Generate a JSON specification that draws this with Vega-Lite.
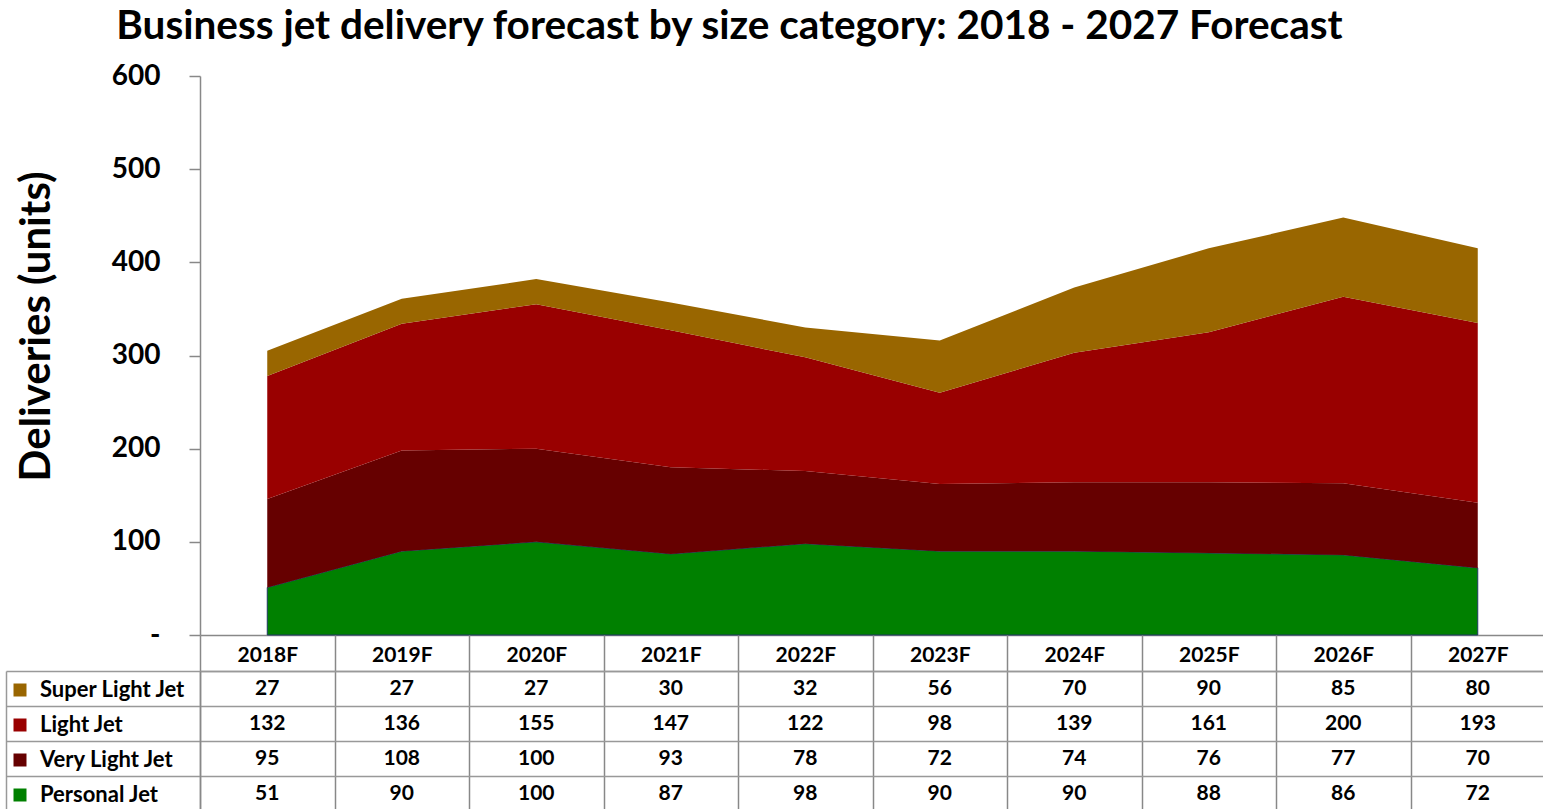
{
  "$schema": "https://vega.github.io/schema/vega-lite/v6.json",
  "padding": {"left": 5, "top": 6, "right": 0, "bottom": 0},
  "autosize": {"type": "pad"},
  "config": {"font": "Lato", "view": {"stroke": null}},
  "title": {"text": "Business jet delivery forecast by size category: 2018 - 2027 Forecast", "fontSize": 40.5, "fontWeight": "bold", "color": "black", "anchor": "start", "dx": 111, "offset": 15},
  "data": {"values": [
    {"year": "2018F", "series": "Personal Jet", "value": 51},
    {"year": "2019F", "series": "Personal Jet", "value": 90},
    {"year": "2020F", "series": "Personal Jet", "value": 100},
    {"year": "2021F", "series": "Personal Jet", "value": 87},
    {"year": "2022F", "series": "Personal Jet", "value": 98},
    {"year": "2023F", "series": "Personal Jet", "value": 90},
    {"year": "2024F", "series": "Personal Jet", "value": 90},
    {"year": "2025F", "series": "Personal Jet", "value": 88},
    {"year": "2026F", "series": "Personal Jet", "value": 86},
    {"year": "2027F", "series": "Personal Jet", "value": 72},
    {"year": "2018F", "series": "Very Light Jet", "value": 95},
    {"year": "2019F", "series": "Very Light Jet", "value": 108},
    {"year": "2020F", "series": "Very Light Jet", "value": 100},
    {"year": "2021F", "series": "Very Light Jet", "value": 93},
    {"year": "2022F", "series": "Very Light Jet", "value": 78},
    {"year": "2023F", "series": "Very Light Jet", "value": 72},
    {"year": "2024F", "series": "Very Light Jet", "value": 74},
    {"year": "2025F", "series": "Very Light Jet", "value": 76},
    {"year": "2026F", "series": "Very Light Jet", "value": 77},
    {"year": "2027F", "series": "Very Light Jet", "value": 70},
    {"year": "2018F", "series": "Light Jet", "value": 132},
    {"year": "2019F", "series": "Light Jet", "value": 136},
    {"year": "2020F", "series": "Light Jet", "value": 155},
    {"year": "2021F", "series": "Light Jet", "value": 147},
    {"year": "2022F", "series": "Light Jet", "value": 122},
    {"year": "2023F", "series": "Light Jet", "value": 98},
    {"year": "2024F", "series": "Light Jet", "value": 139},
    {"year": "2025F", "series": "Light Jet", "value": 161},
    {"year": "2026F", "series": "Light Jet", "value": 200},
    {"year": "2027F", "series": "Light Jet", "value": 193},
    {"year": "2018F", "series": "Super Light Jet", "value": 27},
    {"year": "2019F", "series": "Super Light Jet", "value": 27},
    {"year": "2020F", "series": "Super Light Jet", "value": 27},
    {"year": "2021F", "series": "Super Light Jet", "value": 30},
    {"year": "2022F", "series": "Super Light Jet", "value": 32},
    {"year": "2023F", "series": "Super Light Jet", "value": 56},
    {"year": "2024F", "series": "Super Light Jet", "value": 70},
    {"year": "2025F", "series": "Super Light Jet", "value": 90},
    {"year": "2026F", "series": "Super Light Jet", "value": 85},
    {"year": "2027F", "series": "Super Light Jet", "value": 80}
  ]},
  "transform": [{"window": [{"op": "row_number", "as": "stackRank"}]}],
  "spacing": 36,
  "bounds": "flush",
  "vconcat": [
    {
      "width": 1345,
      "height": 559,
      "transform": [{"stack": "value", "groupby": ["year"], "sort": [{"field": "stackRank", "order": "ascending"}], "as": ["v0", "v1"]}],
      "mark": {"type": "area", "opacity": 1, "strokeWidth": 1},
      "encoding": {
        "x": {"field": "year", "type": "ordinal", "scale": {"type": "point", "padding": 0.5},
              "axis": {"title": null, "labels": false, "ticks": false, "domain": true, "domainColor": "#888888", "domainWidth": 1.5, "minExtent": 0, "maxExtent": 0}},
        "y": {"field": "v1", "type": "quantitative", "scale": {"domain": [0, 600], "nice": false},
              "axis": {"values": [0, 100, 200, 300, 400, 500, 600], "title": "Deliveries (units)", "titleFontSize": 42, "titleFontWeight": "bold", "titleColor": "black", "titlePadding": 53, "titleY": 250,
                       "labelFontSize": 28, "labelFontWeight": "bold", "labelColor": "black", "labelPadding": 29, "tickSize": 11, "tickColor": "#888888", "tickWidth": 1.5, "domainColor": "#888888", "domainWidth": 1.5, "grid": false,
                       "labelExpr": "datum.value == 0 ? '-' : datum.label"}},
        "y2": {"field": "v0"},
        "color": {"field": "series", "type": "nominal",
                  "scale": {"domain": ["Super Light Jet", "Light Jet", "Very Light Jet", "Personal Jet"], "range": ["#996600", "#990000", "#660000", "#008000"]},
                  "legend": null},
        "stroke": {"condition": {"test": "datum.series === 'Personal Jet'", "value": "#1f3864"}, "value": "transparent"}
      }
    },
    {
      "width": 1345,
      "height": 140,
      "layer": [
        {
          "mark": {"type": "text", "fontSize": 21, "fontWeight": "bold", "color": "black"},
          "encoding": {
            "x": {"field": "year", "type": "ordinal", "scale": {"type": "band", "paddingInner": 0, "paddingOuter": 0},
                  "axis": {"orient": "top", "title": null, "labelFontSize": 21, "labelFontWeight": "bold", "labelColor": "black", "labelAngle": 0, "labelBaseline": "middle", "labelPadding": -20,
                           "tickBand": "extent", "tickSize": 36, "tickColor": "#888888", "tickWidth": 1.5, "domain": true, "domainColor": "#999999", "domainWidth": 1.5,
                           "grid": true, "gridColor": "#888888", "gridWidth": 1.5, "minExtent": 36, "maxExtent": 36}},
            "y": {"field": "series", "type": "nominal", "sort": ["Super Light Jet", "Light Jet", "Very Light Jet", "Personal Jet"], "scale": {"paddingInner": 0, "paddingOuter": 0},
                  "axis": {"orient": "left", "title": null, "labels": false, "ticks": true, "tickBand": "extent", "tickSize": 194, "tickColor": "#999999", "tickWidth": 1.5,
                           "domain": true, "domainColor": "#888888", "domainWidth": 1.5, "grid": true, "gridColor": "#999999", "gridWidth": 1.5}},
            "text": {"field": "value", "type": "quantitative"}
          }
        },
        {
          "mark": {"type": "square", "opacity": 0},
          "encoding": {
            "x": {"field": "year", "type": "ordinal"},
            "y": {"field": "series", "type": "nominal", "sort": ["Super Light Jet", "Light Jet", "Very Light Jet", "Personal Jet"],
                  "axis": {"orient": "left", "offset": 194, "title": null, "labels": false, "ticks": false, "grid": false, "domain": true, "domainColor": "#999999", "domainWidth": 1.5}},
            "color": {"field": "series", "type": "nominal",
                      "scale": {"domain": ["Super Light Jet", "Light Jet", "Very Light Jet", "Personal Jet"], "range": ["#996600", "#990000", "#660000", "#008000"]},
                      "legend": {"orient": "none", "legendX": -191, "legendY": 8, "title": null, "symbolType": "square", "symbolSize": 169, "symbolOpacity": 1, "symbolStrokeWidth": 0,
                                 "labelFontSize": 22, "labelFontWeight": "bold", "labelColor": "black", "rowPadding": 13, "labelOffset": 9, "padding": 0, "labelLimit": 300}}
          }
        }
      ],
      "resolve": {"axis": {"y": "independent"}}
    }
  ],
  "resolve": {"scale": {"x": "independent", "color": "independent"}, "legend": {"color": "independent"}}
}
